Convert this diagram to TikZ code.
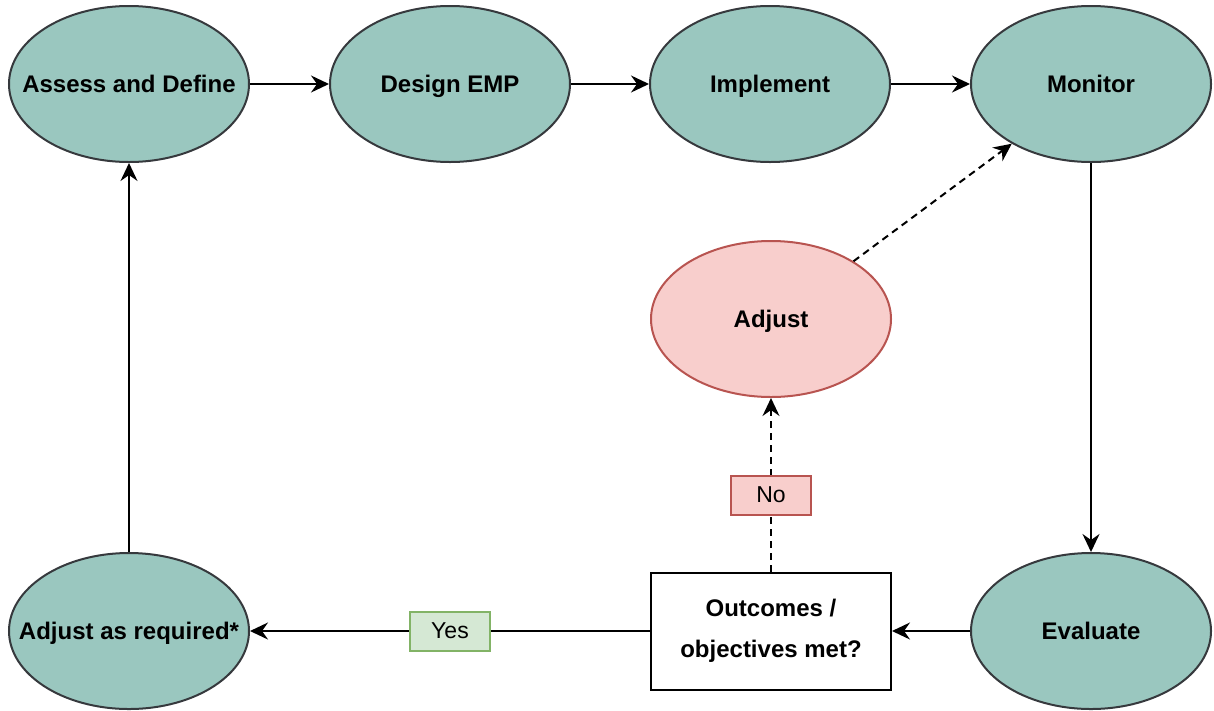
\documentclass[tikz,border=0pt]{standalone}
\usepackage{fontspec}
\setmainfont{Liberation Sans}
\usetikzlibrary{shapes.geometric,arrows.meta}
\definecolor{stagefill}{HTML}{9AC7BF}
\definecolor{stageline}{HTML}{36393D}
\definecolor{redfill}{HTML}{F8CECC}
\definecolor{redline}{HTML}{B85450}
\definecolor{greenfill}{HTML}{D5E8D4}
\definecolor{greenline}{HTML}{82B366}
\newcommand{\ctr}[1]{\makebox[0pt]{#1}}
\begin{document}
\begin{tikzpicture}[x=1pt,y=-1pt,
  stage/.style={ellipse,draw=stageline,fill=stagefill,line width=2pt,minimum width=240pt,minimum height=156pt,inner sep=0pt,text height=20pt,text depth=3.6pt,font=\bfseries\fontsize{24}{28}\selectfont},
  decide/.style={draw,line width=2pt,minimum width=240pt,minimum height=117pt,align=center,font=\bfseries\fontsize{24}{41}\selectfont},
  tag/.style={draw,solid,line width=2pt,minimum width=80pt,minimum height=39pt,inner sep=0pt,font=\fontsize{23}{28}\selectfont},
  flow/.style={line width=2pt,-{Stealth[length=18pt,width=17pt,inset=6pt]}},
  loose/.style={flow,dash pattern=on 7pt off 5pt}]
\useasboundingbox (0,0) rectangle (1214,710);
% top row
\node[stage] (assess) at (129,84) {\ctr{Assess and Define}};
\node[stage] (design) at (450,84) {\ctr{Design EMP}};
\node[stage] (impl) at (770,84) {\ctr{Implement}};
\node[stage] (monitor) at (1091,84) {\ctr{Monitor}};
% middle
\node[stage,draw=redline,fill=redfill] (adjust) at (771,319) {\ctr{Adjust}};
% bottom row
\node[stage] (adjreq) at (129,631) {\ctr{Adjust as required*}};
\node[decide] (outcome) at (771,631) {Outcomes /\\objectives met?};
\node[stage] (evaluate) at (1091,631) {\ctr{Evaluate}};
% arrows
\draw[flow] (assess) -- (design);
\draw[flow] (design) -- (impl);
\draw[flow] (impl) -- (monitor);
\draw[flow] (monitor) -- (evaluate);
\draw[flow] (evaluate) -- (outcome);
\draw[flow] (outcome) -- node[tag,draw=greenline,fill=greenfill] (yes) {Yes} (adjreq);
\draw[loose] (outcome) -- node[tag,draw=redline,fill=redfill,pos=.44] (no) {No} (adjust);
\draw[loose] (adjust.35) -- (monitor.217);
\draw[flow] (adjreq) -- (assess);
\end{tikzpicture}
\end{document}
